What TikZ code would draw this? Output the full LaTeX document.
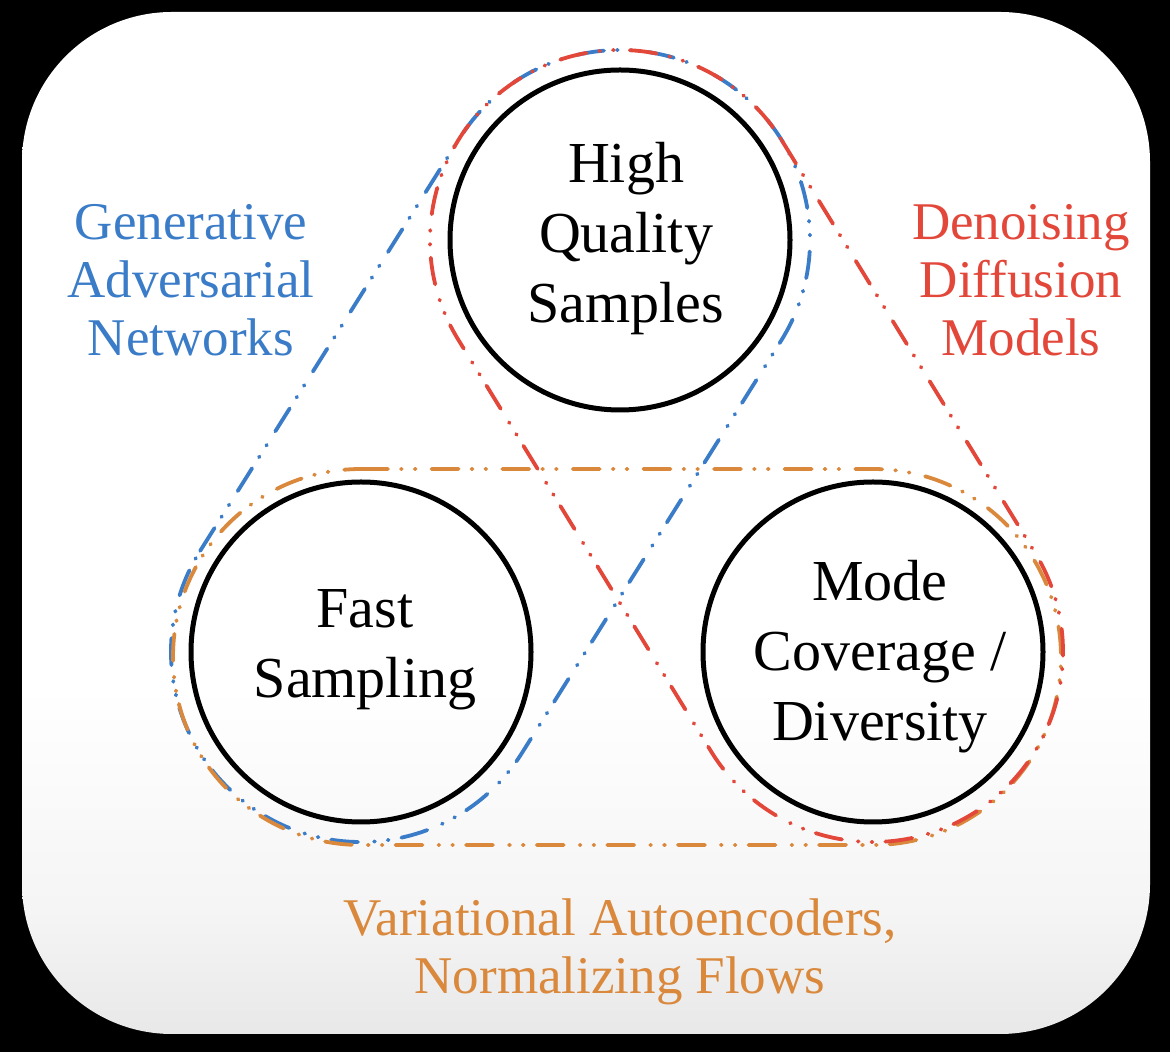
\documentclass[tikz,border=0pt]{standalone}
\usepackage{fontspec}
\setmainfont{Liberation Serif}
\usetikzlibrary{calc}

\definecolor{ganblue}{HTML}{3A7CC8}
\definecolor{ddmred}{HTML}{E2473A}
\definecolor{vaeorange}{HTML}{D9883C}

% panel shading: white over most of the height, light grey near the bottom
\pgfdeclareverticalshading{panel}{100bp}{%
  color(0bp)=(black!9); color(25bp)=(black!9); color(31bp)=(black!4);
  color(42bp)=(white); color(100bp)=(white)}

% stadium-shaped loop around two centres: #1, #2 centres, #3 radius, #4 style
\newcommand\familyloop[4]{%
  \draw[#4] let \p1=($(#2)-(#1)$), \n1={atan2(\y1,\x1)} in
    ($(#1)+(\n1+90:#3)$) -- ($(#2)+(\n1+90:#3)$)
    arc[start angle=\n1+90, end angle=\n1-90, radius=#3]
    -- ($(#1)+(\n1-90:#3)$)
    arc[start angle=\n1-90, end angle=\n1-270, radius=#3] -- cycle;}

\begin{document}
\begin{tikzpicture}[x=1pt,y=1pt,
  quality/.style={circle, draw=black, line width=5pt, minimum size=340pt, inner sep=0pt},
  qtext/.style={align=center, inner sep=0pt, font=\fontsize{58}{70}\selectfont},
  family/.style={align=center, inner sep=0pt, font=\fontsize{53}{58}\selectfont},
  famline/.style={line width=3.8pt, line cap=round,
    dash pattern=on 27pt off 13pt on 0.8pt off 13pt on 0.8pt off 16pt},
]
\useasboundingbox (0,0) rectangle (1170,1052);
\fill[black] (0,0) rectangle (1170,1052);
\shade[shading=panel, rounded corners=150pt] (22,18) rectangle (1150,1040);

% the three properties
\node[quality] (hq) at (620,812) {};
\node[quality] (fs) at (361,400) {};
\node[quality] (mc) at (873,400) {};

\node[qtext] (hqt) at (626,813) {High\\Quality\\Samples};
\node[qtext] (fst) at (365,402) {Fast\\Sampling};
\node[qtext] (mct) at (880,395) {Mode\\Coverage /\\Diversity};

% model families
\coordinate (vl) at (361,395);
\coordinate (vr) at (873,395);
\familyloop{fs}{hq}{190}{famline, draw=ganblue}
\familyloop{vl}{vr}{188}{famline, draw=vaeorange}
\familyloop{hq}{mc}{190}{famline, draw=ddmred}

\node[family, text=ganblue] (gan) at (191,772) {Generative\\Adversarial\\Networks};
\node[family, text=ddmred] (ddm) at (1021,772) {Denoising\\Diffusion\\Models};
\node[family, text=vaeorange] (vae) at (620,100) {Variational Autoencoders,\\Normalizing Flows};
\end{tikzpicture}
\end{document}
